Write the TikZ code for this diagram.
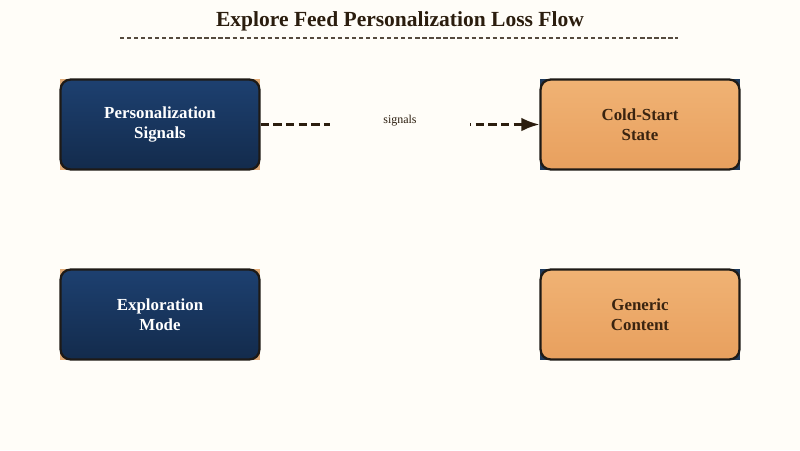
\documentclass[tikz,border=0pt]{standalone}
\usepackage{fontspec}
\setmainfont{Liberation Serif}
\usetikzlibrary{arrows.meta,positioning}
\definecolor{pageBg}{HTML}{FFFDF8}
\definecolor{inkBrown}{HTML}{2B1D0E}
\definecolor{edgeDark}{HTML}{1E1A16}
\definecolor{navyTop}{HTML}{1D4070}
\definecolor{navyBot}{HTML}{132B4C}
\definecolor{peachTop}{HTML}{F0B274}
\definecolor{peachBot}{HTML}{E8A05E}
\definecolor{tanAccent}{HTML}{E2AC78}
\definecolor{navyAccent}{HTML}{1E3A5C}
\definecolor{peachText}{HTML}{3A2410}
\tikzset{
  flow/.style={-{Latex[length=4.5mm,width=3.4mm]}, line width=1.8pt,
    dash pattern=on 6pt off 3pt, inkBrown},
  rule/.style={line width=0.9pt, dash pattern=on 3pt off 2pt, inkBrown!80},
  corner/.style={fill=#1, draw=none, minimum width=5cm, minimum height=2.275cm,
    inner sep=0pt},
  navybox/.style={draw=edgeDark, line width=1.6pt, rounded corners=7pt,
    top color=navyTop, bottom color=navyBot, minimum width=4.97cm,
    minimum height=2.245cm, align=center, text=white,
    font=\fontsize{12}{14.3}\selectfont\bfseries},
  peachbox/.style={draw=edgeDark, line width=1.6pt, rounded corners=7pt,
    top color=peachTop, bottom color=peachBot, minimum width=4.97cm,
    minimum height=2.245cm, align=center, text=peachText,
    font=\fontsize{12}{14.3}\selectfont\bfseries},
  tag/.style={fill=pageBg, minimum width=3.5cm, minimum height=0.8cm,
    font=\fontsize{8.5}{10}\selectfont, text=inkBrown}
}
\begin{document}
\begin{tikzpicture}[x=0.025cm,y=-0.025cm]
  \useasboundingbox[fill=pageBg] (0,0) rectangle (800,450);
  \node[font=\fontsize{15.3}{17}\selectfont\bfseries, text=inkBrown] (title) at (400,21)
    {Explore Feed Personalization Loss Flow};
  \coordinate (ruleL) at (120,38);
  \coordinate (ruleR) at (678,38);
  \draw[rule] (ruleL) -- (ruleR);
  % accent corners behind the boxes
  \foreach \n/\x/\y/\c in {psA/160/124.5/tanAccent,emA/160/314.5/tanAccent,
      csA/640/124.5/navyAccent,gcA/640/314.5/navyAccent}{
    \node[corner=\c] (\n) at (\x,\y) {};
  }
  \node[navybox] (ps) at (160,124.5) {Personalization\\Signals};
  \node[navybox] (em) at (160,314.5) {Exploration\\Mode};
  \node[peachbox] (cs) at (640,124.5) {Cold-Start\\State};
  \node[peachbox] (gc) at (640,314.5) {Generic\\Content};
  \draw[flow] (ps.east) -- node[tag, yshift=0.1cm] {signals} (cs.west);
\end{tikzpicture}
\end{document}
